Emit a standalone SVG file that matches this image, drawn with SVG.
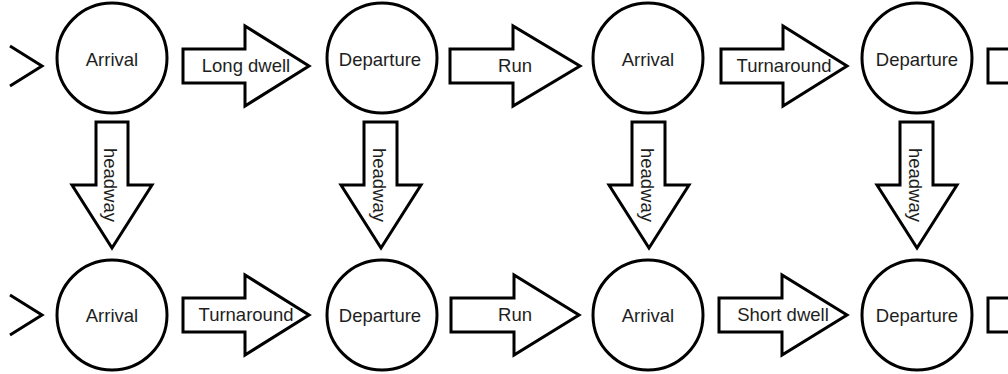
<svg xmlns="http://www.w3.org/2000/svg" width="1008" height="374" viewBox="0 0 1008 374">
<style>
.node{fill:#fff;stroke:#000;stroke-width:3}
.arr{fill:#fff;stroke:#000;stroke-width:3;stroke-linejoin:miter}
.open{fill:none;stroke:#000;stroke-width:3}
text{font-family:"Liberation Sans",Arial,sans-serif;font-size:18.5px;fill:#1e1e1e;text-anchor:middle}
</style>
<rect width="1008" height="374" fill="#fff"/>
<g id="connectors">
  <polyline class="open" points="10,46 42,66 10,86"/>
  <polyline class="open" points="10,295 42,315 10,335"/>
  <g id="c-longdwell"><polygon class="arr" points="183,49 245,49 245,26 309,66 245,106 245,83 183,83"/><text x="246" y="72">Long dwell</text></g>
  <g id="c-run1"><polygon class="arr" points="450,49 513,49 513,26 580,66 513,106 513,83 450,83"/><text x="515" y="72">Run</text></g>
  <g id="c-turn1"><polygon class="arr" points="721,49 783,49 783,26 847,66 783,106 783,83 721,83"/><text x="784" y="72">Turnaround</text></g>
  <g id="c-right1"><polygon class="arr" points="988,49 1050,49 1050,26 1114,66 1050,106 1050,83 988,83"/></g>
  <g id="c-turn2"><polygon class="arr" points="183,298 245,298 245,275 309,315 245,355 245,332 183,332"/><text x="246" y="321">Turnaround</text></g>
  <g id="c-run2"><polygon class="arr" points="451,298 514,298 514,275 579,315 514,355 514,332 451,332"/><text x="515" y="321">Run</text></g>
  <g id="c-short"><polygon class="arr" points="719,298 782,298 782,275 847,315 782,355 782,332 719,332"/><text x="783" y="321">Short dwell</text></g>
  <g id="c-right2"><polygon class="arr" points="988,298 1050,298 1050,275 1114,315 1050,355 1050,332 988,332"/></g>
  <g id="h1"><polygon class="arr" points="96,122 128,122 128,185 152,185 112,248 72,185 96,185"/><text transform="translate(112,185) rotate(90)" x="0" y="8">headway</text></g>
  <g id="h2"><polygon class="arr" points="364,122 397,122 397,185 421,185 381,248 341,185 364,185"/><text transform="translate(381,185) rotate(90)" x="0" y="8">headway</text></g>
  <g id="h3"><polygon class="arr" points="632,122 665,122 665,185 689,185 649,248 609,185 632,185"/><text transform="translate(649,185) rotate(90)" x="0" y="8">headway</text></g>
  <g id="h4"><polygon class="arr" points="900,122 933,122 933,185 957,185 917,248 877,185 900,185"/><text transform="translate(917,185) rotate(90)" x="0" y="8">headway</text></g>
</g>
<g id="n-arr1"><circle class="node" cx="112" cy="58" r="55"/><text x="112" y="66">Arrival</text></g>
<g id="n-dep1"><circle class="node" cx="382" cy="58" r="55"/><text x="380" y="66">Departure</text></g>
<g id="n-arr2"><circle class="node" cx="648" cy="58" r="55"/><text x="648" y="66">Arrival</text></g>
<g id="n-dep2"><circle class="node" cx="917" cy="58" r="55"/><text x="917" y="66">Departure</text></g>
<g id="n-arr3"><circle class="node" cx="112" cy="315" r="55"/><text x="112" y="322">Arrival</text></g>
<g id="n-dep3"><circle class="node" cx="382" cy="315" r="55"/><text x="380" y="322">Departure</text></g>
<g id="n-arr4"><circle class="node" cx="648" cy="315" r="55"/><text x="648" y="322">Arrival</text></g>
<g id="n-dep4"><circle class="node" cx="917" cy="315" r="55"/><text x="917" y="322">Departure</text></g>
</svg>
